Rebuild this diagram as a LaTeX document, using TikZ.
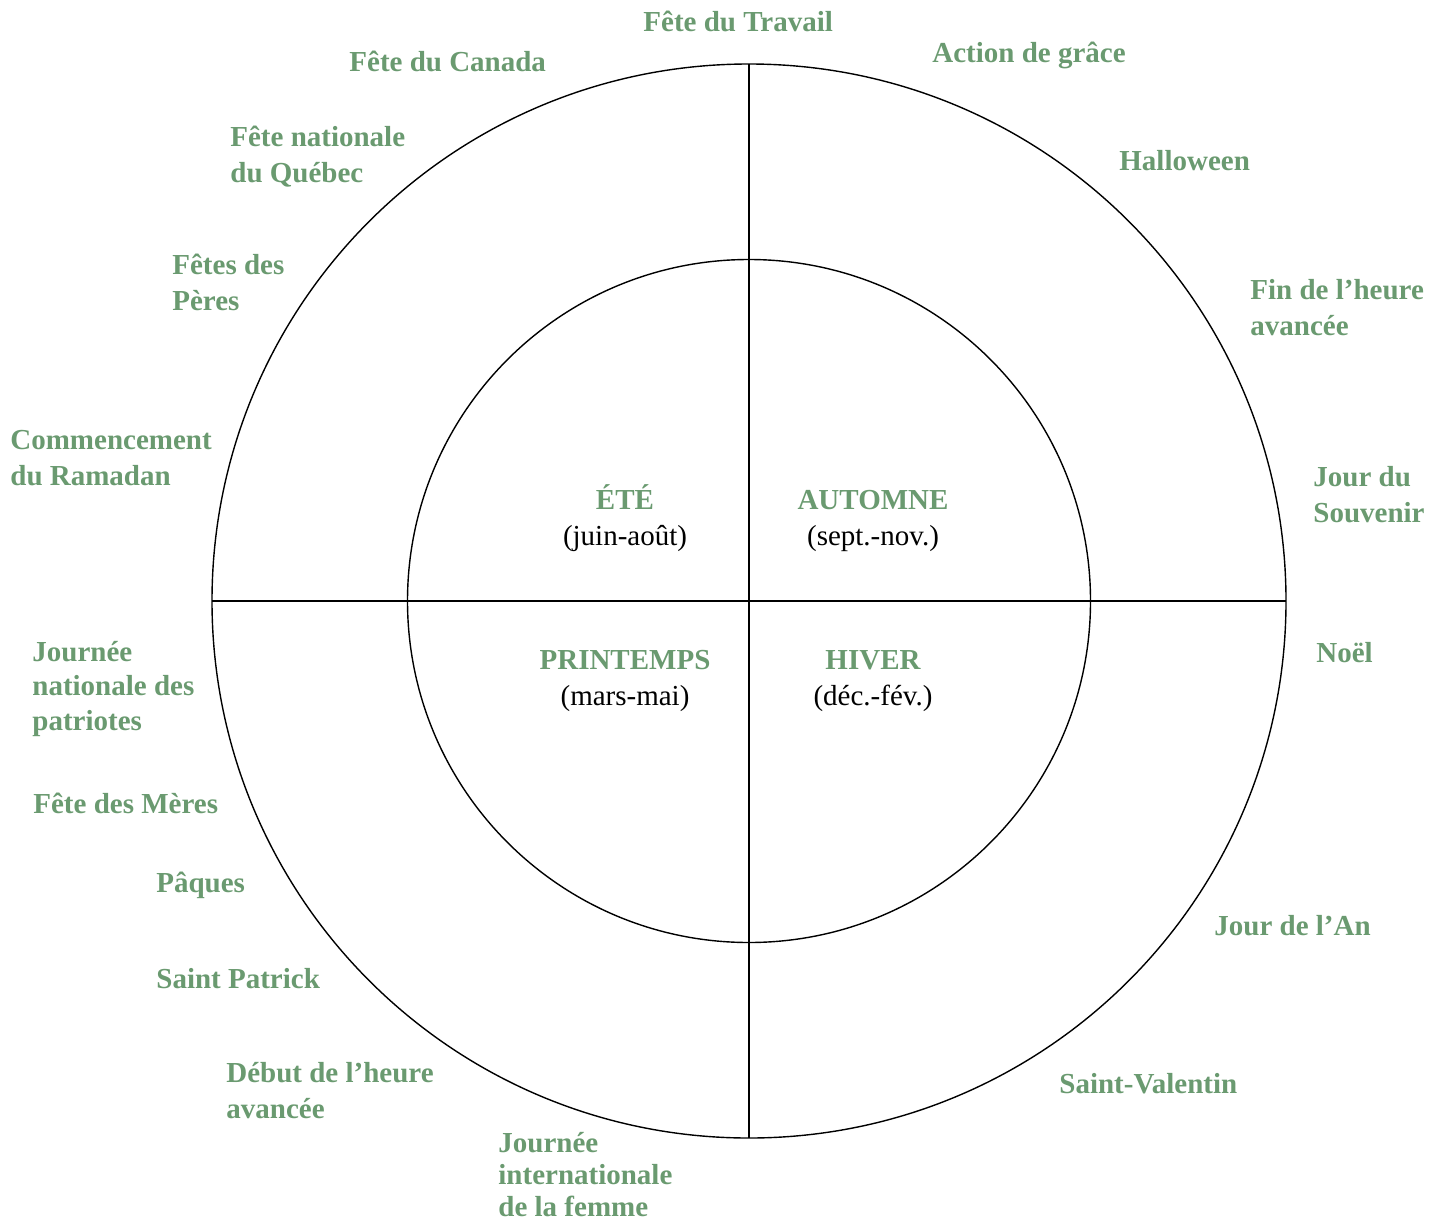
\documentclass[tikz,border=0pt]{standalone}
\usepackage{fontspec}
\setmainfont{Liberation Serif}
\usepackage{tikz}
\usetikzlibrary{positioning}
\definecolor{feteGreen}{RGB}{106,154,112}
\tikzset{
  fete/.style={anchor=base west,inner sep=0pt,align=left,text=feteGreen,
               font=\fontsize{14.5}{18}\selectfont\bfseries},
  saison/.style={anchor=base,inner sep=0pt,text=feteGreen,
                 font=\fontsize{14.5}{18}\selectfont\bfseries},
  mois/.style={anchor=base,inner sep=0pt,font=\fontsize{14.5}{18}\selectfont},
  ring/.style={circle,draw,line width=0.7pt,outer sep=0pt,inner sep=0pt,minimum size=#1},
}
\begin{document}
\begin{tikzpicture}[x=0.5pt,y=-0.5pt]
  \useasboundingbox (0,0) rectangle (1443,1220);
  % cercles et axes
  \node[ring=537pt](outer) at (749,601){};
  \node[ring=341.5pt](inner) at (749,601){};
  \draw[line width=0.7pt](outer.north)--(outer.south);
  \draw[line width=0.7pt](outer.west)--(outer.east);
  % saisons
  \node[saison](ete) at (625,509){ÉTÉ};
  \node[mois](eteM) at (625,545){(juin-août)};
  \node[saison](aut) at (873,509){AUTOMNE};
  \node[mois](autM) at (873,545){(sept.-nov.)};
  \node[saison](pri) at (625,669){PRINTEMPS};
  \node[mois](priM) at (625,705){(mars-mai)};
  \node[saison](hiv) at (873,669){HIVER};
  \node[mois](hivM) at (873,705){(déc.-fév.)};
  % fetes (base = derniere ligne)
  \node[fete](travail) at (643,32){Fête du Travail};
  \node[fete](action) at (932,62){Action de grâce};
  \node[fete](halloween) at (1119,170){Halloween};
  \node[fete](finHeure) at (1250,335){Fin de l’heure\\avancée};
  \node[fete](souvenir) at (1313,522){Jour du\\Souvenir};
  \node[fete](noel) at (1316,662){Noël};
  \node[fete](jourAn) at (1214,935){Jour de l’An};
  \node[fete](valentin) at (1059,1093){Saint-Valentin};
  \node[fete,font=\fontsize{14.5}{16}\selectfont\bfseries](femme) at (498,1216)
    {Journée\\internationale\\de la femme};
  \node[fete](debutHeure) at (226,1118){Début de l’heure\\avancée};
  \node[fete](patrick) at (156,988){Saint Patrick};
  \node[fete](paques) at (156,892){Pâques};
  \node[fete](meres) at (33,813){Fête des Mères};
  \node[fete,font=\fontsize{14.5}{17.25}\selectfont\bfseries](patriotes) at (32,730)
    {Journée\\nationale des\\patriotes};
  \node[fete](ramadan) at (10,485){Commencement\\du Ramadan};
  \node[fete](peres) at (172,310){Fêtes des\\Pères};
  \node[fete](quebec) at (230,182){Fête nationale\\du Québec};
  \node[fete](canada) at (349,72){Fête du Canada};
\end{tikzpicture}
\end{document}
